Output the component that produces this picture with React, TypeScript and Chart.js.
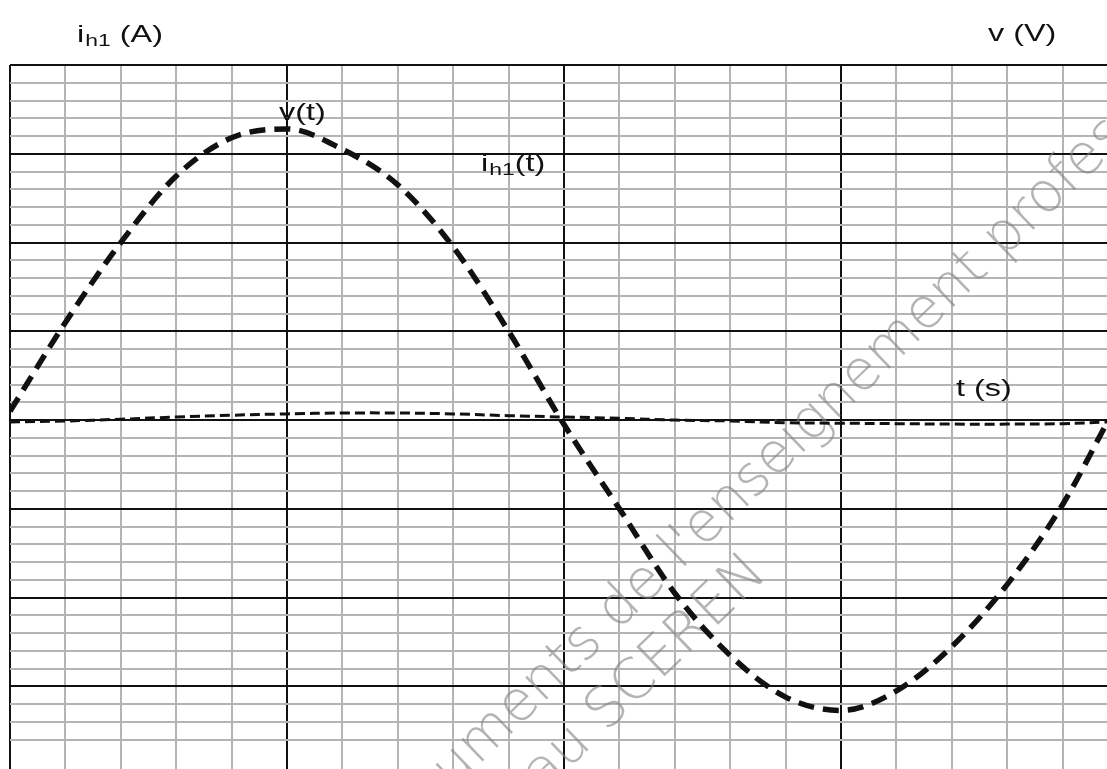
import React, { useEffect, useRef } from "react";
import { Chart, registerables } from "chart.js";

Chart.register(...registerables);

// time in major divisions
const tValues = [0, 0.2, 0.4, 0.6, 0.8, 1.0, 1.2, 1.4, 1.6, 1.8, 2.0, 2.2, 2.4, 2.6, 2.8, 3.0, 3.2, 3.4, 3.6, 3.8, 3.96];
// v(t) in major divisions
const vValues = [0.1, 1.1, 2.0, 2.75, 3.18, 3.28, 3.05, 2.65, 1.95, 1.0, -0.05, -1.0, -1.95, -2.65, -3.12, -3.27, -3.05, -2.55, -1.85, -0.95, -0.03];
// i_h1(t) in major divisions
const iValues = [-0.02, -0.01, 0.01, 0.035, 0.055, 0.07, 0.08, 0.08, 0.07, 0.05, 0.035, 0.02, 0.0, -0.01, -0.03, -0.035, -0.04, -0.045, -0.045, -0.04, -0.02];

const xRange = [0, 3.96];
const yRange = [-3.93, 4];
const gridStep = 0.2;

const leftTitle = ["i", "h1", " (A)"];
const rightTitle = "v (V)";
const vLabel = "v(t)";
const iLabel = ["i", "h1", "(t)"];
const tLabel = "t (s)";
const wmLine1 = "Documents de l'enseignement professionnel";
const wmLine2 = "réseau SCEREN";

const isMajor = (v: number) => Math.abs(v - Math.round(v)) < 1e-6;
const isMinor = (v: number) => Math.abs(v / gridStep - Math.round(v / gridStep)) < 1e-6;

const gridColor = (ctx: any) => {
  const v = ctx.tick ? ctx.tick.value : 0;
  if (isMajor(v)) return "#111111";
  if (isMinor(v)) return "#b4b4b4";
  return "rgba(0,0,0,0)";
};

const FONT = "'Liberation Sans', Arial, sans-serif";
const STRETCH = 1.35;

function wideText(ctx: CanvasRenderingContext2D, text: string, x: number, y: number, size: number) {
  ctx.save();
  ctx.font = `${size}px ${FONT}`;
  ctx.translate(x, y);
  ctx.scale(STRETCH, 1);
  ctx.fillText(text, 0, 0);
  const w = ctx.measureText(text).width * STRETCH;
  ctx.restore();
  return w;
}

function drawSub(ctx: CanvasRenderingContext2D, parts: string[], x: number, y: number, size: number) {
  let cx = x;
  cx += wideText(ctx, parts[0], cx, y, size) + 1;
  cx += wideText(ctx, parts[1], cx, y + 4, 17);
  wideText(ctx, parts[2], cx, y, size);
}

const textPlugin = {
  id: "texts",
  beforeDatasetsDraw(chart: any) {
    const ctx: CanvasRenderingContext2D = chart.ctx;
    ctx.save();
    const a = (-44 * Math.PI) / 180;
    const cos = Math.cos(a), sin = Math.sin(a);
    const wmFont = (s: number) => `200 ${s}px 'DejaVu Sans', sans-serif`;
    ctx.font = wmFont(100);
    const ref = ctx.measureText("mens de l'enseignement profe").width;
    const size = (854 / ref) * 100;
    ctx.font = wmFont(size);
    ctx.fillStyle = "rgba(130,130,130,0.6)";
    const pre1 = ctx.measureText("Docu").width;
    const m = [478, 766];
    ctx.translate(m[0] - pre1 * cos, m[1] - pre1 * sin);
    ctx.rotate(a);
    ctx.fillText(wmLine1, 0, 0);
    ctx.setTransform(1, 0, 0, 1, 0, 0);
    const pre2 = ctx.measureText("réseau ").width;
    const s = [606, 733];
    ctx.translate(s[0] - pre2 * cos, s[1] - pre2 * sin);
    ctx.rotate(a);
    ctx.fillText(wmLine2, 0, 0);
    ctx.restore();
  },
  afterDraw(chart: any) {
    const ctx: CanvasRenderingContext2D = chart.ctx;
    ctx.save();
    ctx.fillStyle = "#111111";
    ctx.textBaseline = "alphabetic";
    drawSub(ctx, leftTitle, 77, 42, 24);
    wideText(ctx, rightTitle, 988, 41, 24);
    wideText(ctx, vLabel, 279, 120, 24);
    drawSub(ctx, iLabel, 481, 171, 24);
    wideText(ctx, tLabel, 956, 396, 24);
    ctx.restore();
  },
};

export default function App() {
  const ref = useRef<HTMLCanvasElement>(null);
  useEffect(() => {
    document.body.style.margin = "0";
    const canvas = ref.current!;
    const chart = new Chart(canvas, {
      type: "line",
      data: {
        datasets: [
          {
            label: "v(t)",
            data: tValues.map((t, k) => ({ x: t, y: vValues[k] })),
            borderColor: "#111111",
            borderWidth: 5.5,
            borderDash: [16, 9],
            pointRadius: 0,
            tension: 0.4,
            cubicInterpolationMode: "monotone",
            fill: false,
          },
          {
            label: "ih1(t)",
            data: tValues.map((t, k) => ({ x: t, y: iValues[k] })),
            borderColor: "#111111",
            borderWidth: 3,
            borderDash: [10, 5],
            pointRadius: 0,
            tension: 0.4,
            fill: false,
          },
        ],
      },
      options: {
        animation: false,
        responsive: false,
        maintainAspectRatio: false,
        layout: { padding: { left: 10, top: 65, right: 0, bottom: 0 } },
        plugins: { legend: { display: false }, tooltip: { enabled: false } },
        scales: {
          x: {
            type: "linear",
            min: xRange[0],
            max: xRange[1],
            ticks: { display: false, stepSize: gridStep },
            grid: { color: gridColor, lineWidth: 2, drawTicks: false },
            border: { display: false },
          },
          y: {
            type: "linear",
            min: yRange[0],
            max: yRange[1],
            ticks: { display: false, stepSize: gridStep },
            grid: { color: gridColor, lineWidth: 2, drawTicks: false },
            border: { display: false },
          },
        },
      },
      plugins: [textPlugin],
    });
    return () => chart.destroy();
  }, []);
  return (
    <div style={{ width: 1107, height: 769, background: "#fff" }}>
      <canvas ref={ref} width={1107} height={769} style={{ display: "block" }} />
    </div>
  );
}
